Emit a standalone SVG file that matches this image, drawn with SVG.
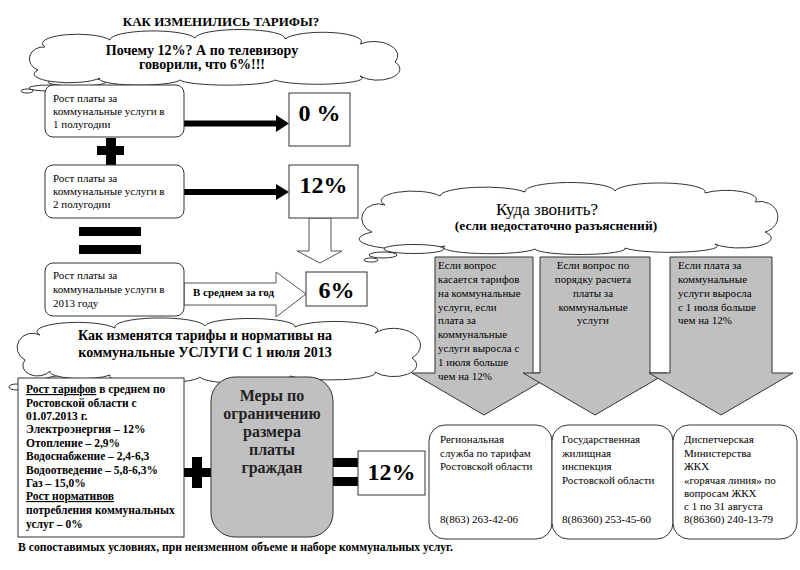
<svg xmlns="http://www.w3.org/2000/svg" width="800" height="570" viewBox="0 0 800 570" font-family="'Liberation Serif', 'DejaVu Serif', serif">
<style>
text{font-family:'Liberation Serif','DejaVu Serif',serif;fill:#000}
.b{font-weight:bold}
.sm{font-size:11px}
.cloud{fill:#fff;stroke:#333;stroke-width:1}
.box{fill:#fff;stroke:#333;stroke-width:1}
.pct{font-size:24px;font-weight:bold}
.garr{fill:#c0c0c0;stroke:#333;stroke-width:1}
.hol{fill:#fff;stroke:#555;stroke-width:1}
.u{text-decoration:underline}
</style>
<rect width="800" height="570" fill="#fff"/>

<text x="221" y="26" class="b" font-size="13" text-anchor="middle">КАК ИЗМЕНИЛИСЬ ТАРИФЫ?</text>

<g id="cloud-top">
<ellipse class="cloud" cx="77" cy="82" rx="29" ry="4"/>
<ellipse class="cloud" cx="49" cy="88" rx="20" ry="3"/>
<ellipse class="cloud" cx="27" cy="91" rx="6" ry="2"/>
<path class="cloud" d="M38,70 A14,12 0 0 1 45,47 A34,9 0 0 1 110,40 A43,9 0 0 1 195,38 A45,9 0 0 1 285,39 A38,9 0 0 1 360,44 A24,14 0 0 1 395,62 A20,10 0 0 1 360,76 A43,6 0 0 1 275,80 A48,6 0 0 1 180,80 A40,6 0 0 1 100,78 A32,8 0 0 1 38,70 Z"/>
<text x="202" y="55" class="b" font-size="14" text-anchor="middle">Почему 12%? А по телевизору</text>
<text x="202" y="69" class="b" font-size="14" text-anchor="middle">говорили, что 6%!!!</text>
</g>

<g id="connectors">
<line x1="184" y1="123.5" x2="278" y2="123.5" stroke="#000" stroke-width="6"/>
<polygon points="276,115 289,123.5 276,132" fill="#000"/>
<line x1="184" y1="192" x2="278" y2="192" stroke="#000" stroke-width="6"/>
<polygon points="276,184 289,192 276,200" fill="#000"/>
<polygon class="hol" points="309,218 331,218 331,251 342,251 320,263 297,251 309,251"/>
<polygon class="hol" points="184,283 276,283 276,272 306,294 276,317 276,305 184,305"/>
</g>

<g id="plus1">
<rect x="106" y="138" width="10" height="27" fill="#000"/>
<rect x="97" y="146" width="27" height="9" fill="#000"/>
</g>
<g id="equals1">
<rect x="79" y="227" width="62" height="9" fill="#000"/>
<rect x="79" y="245" width="62" height="9" fill="#000"/>
</g>

<g id="box1">
<rect class="box" x="45" y="85" width="139" height="52" rx="8"/>
<text class="sm" x="53" y="102">Рост платы за</text>
<text class="sm" x="53" y="115">коммунальные услуги в</text>
<text class="sm" x="53" y="128">1 полугодии</text>
</g>
<g id="box2">
<rect class="box" x="45" y="165" width="139" height="53" rx="8"/>
<text class="sm" x="53" y="182">Рост платы за</text>
<text class="sm" x="53" y="195">коммунальные услуги в</text>
<text class="sm" x="53" y="208">2 полугодии</text>
</g>
<g id="box3">
<rect class="box" x="45" y="263" width="139" height="53" rx="8"/>
<text class="sm" x="53" y="279">Рост платы за</text>
<text class="sm" x="53" y="293">коммунальные услуги в</text>
<text class="sm" x="53" y="307">2013 году</text>
</g>
<text x="193" y="296" class="b" font-size="11">В среднем за год</text>

<g id="pct0">
<rect class="box" x="289" y="93" width="61" height="53"/>
<text x="319.5" y="121" class="pct" text-anchor="middle">0 %</text>
</g>
<g id="pct12a">
<rect class="box" x="289" y="165" width="69" height="53"/>
<text x="323.5" y="193" class="pct" text-anchor="middle">12%</text>
</g>
<g id="pct6">
<rect class="box" x="306" y="272" width="61" height="34"/>
<text x="336.5" y="298" class="pct" text-anchor="middle">6%</text>
</g>

<g id="cloud-right">
<path class="cloud" d="M372,232 A16,14 0 0 1 385,205 A30,9 0 0 1 440,196 A45,9 0 0 1 525,192 A45,9 0 0 1 615,191 A45,9 0 0 1 705,193 A30,9 0 0 1 755,202 A16,14 0 0 1 765,232 A25,8 0 0 1 715,244 A45,6 0 0 1 625,248 A45,6 0 0 1 535,249 A45,6 0 0 1 445,246 A38,8 0 0 1 372,232 Z"/>
<ellipse class="cloud" cx="414" cy="249" rx="30" ry="4.5"/>
<ellipse class="cloud" cx="383" cy="255" rx="14" ry="3"/>
<ellipse class="cloud" cx="371" cy="260" rx="7" ry="2"/>
<text x="547" y="215" font-size="17" text-anchor="middle">Куда звонить?</text>
<text x="556" y="230" class="b" font-size="13.5" text-anchor="middle">(если недостаточно разъяснений)</text>
</g>

<g id="arrow1">
<polygon class="garr" points="435,257 533,257 533,373 556,373 484,415 412,373 435,373"/>
<text class="sm" x="438" y="269">Если вопрос</text>
<text class="sm" x="438" y="283">касается тарифов</text>
<text class="sm" x="438" y="297">на коммунальные</text>
<text class="sm" x="438" y="311">услуги, если</text>
<text class="sm" x="438" y="324">плата за</text>
<text class="sm" x="438" y="338">коммунальные</text>
<text class="sm" x="438" y="352">услуги выросла с</text>
<text class="sm" x="438" y="366">1 июля больше</text>
<text class="sm" x="438" y="380">чем на 12%</text>
</g>
<g id="arrow2">
<polygon class="garr" points="540,257 650,257 650,373 667,373 595,415 523,373 540,373"/>
<text class="sm" x="593" y="269" text-anchor="middle">Если вопрос по</text>
<text class="sm" x="593" y="283" text-anchor="middle">порядку расчета</text>
<text class="sm" x="593" y="297" text-anchor="middle">платы за</text>
<text class="sm" x="593" y="311" text-anchor="middle">коммунальные</text>
<text class="sm" x="593" y="324" text-anchor="middle">услуги</text>
</g>
<g id="arrow3">
<polygon class="garr" points="670,257 772,257 772,373 793,373 721,415 649,373 670,373"/>
<text class="sm" x="678" y="269">Если плата за</text>
<text class="sm" x="678" y="283">коммунальные</text>
<text class="sm" x="678" y="297">услуги выросла</text>
<text class="sm" x="678" y="311">с 1 июля больше</text>
<text class="sm" x="678" y="324">чем на 12%</text>
</g>

<g id="cloud-mid">
<ellipse class="cloud" cx="72" cy="381" rx="29" ry="6"/>
<ellipse class="cloud" cx="16" cy="387" rx="7" ry="3"/>
<path class="cloud" d="M25,360 A14,13 0 0 1 40,335 A40,9 0 0 1 115,328 A45,9 0 0 1 205,326 A45,8 0 0 1 295,327 A40,8 0 0 1 375,333 A22,14 0 0 1 412,358 A20,10 0 0 1 375,372 A45,7 0 0 1 290,376 A45,7 0 0 1 200,377 A45,7 0 0 1 110,375 A32,7 0 0 1 50,371 A14,10 0 0 1 25,360 Z"/>
<text x="205" y="340" class="b" font-size="14" text-anchor="middle">Как изменятся тарифы и нормативы на</text>
<text x="205" y="357" class="b" font-size="14" text-anchor="middle">коммунальные УСЛУГИ С 1 июля 2013</text>
</g>

<g id="tariffs">
<rect class="box" x="18" y="378" width="166" height="159"/>
<g class="b" font-size="11.5">
<text x="26" y="393"><tspan class="u">Рост тарифов</tspan> в среднем по</text>
<text x="26" y="407">Ростовской области с</text>
<text x="26" y="420">01.07.2013 г.</text>
<text x="26" y="433">Электроэнергия – 12%</text>
<text x="26" y="447">Отопление – 2,9%</text>
<text x="26" y="460">Водоснабжение – 2,4-6,3</text>
<text x="26" y="474">Водоотведение – 5,8-6,3%</text>
<text x="26" y="487">Газ – 15,0%</text>
<text x="26" y="500" class="u">Рост нормативов</text>
<text x="26" y="514">потребления коммунальных</text>
<text x="26" y="528">услуг – 0%</text>
</g>
</g>

<g id="plus2">
<rect x="192" y="457" width="10" height="31" fill="#000"/>
<rect x="184" y="468" width="27" height="9" fill="#000"/>
</g>

<g id="measures">
<rect x="211" y="377" width="122" height="160" rx="24" fill="#c0c0c0" stroke="#333" stroke-width="1"/>
<g class="b" font-size="16" text-anchor="middle">
<text x="272" y="401" style="fill:#222">Меры по</text>
<text x="272" y="419" style="fill:#222">ограничению</text>
<text x="272" y="437" style="fill:#222">размера</text>
<text x="272" y="455" style="fill:#222">платы</text>
<text x="272" y="473" style="fill:#222">граждан</text>
</g>
</g>

<g id="equals2">
<rect x="333" y="458" width="26" height="9" fill="#000"/>
<rect x="333" y="477" width="26" height="9" fill="#000"/>
</g>
<g id="pct12b">
<rect class="box" x="358" y="451" width="67" height="44"/>
<text x="391.5" y="480" class="pct" text-anchor="middle">12%</text>
</g>

<g id="contactA">
<rect class="box" x="429" y="425" width="123" height="114" rx="16"/>
<text class="sm" x="440" y="443">Региональная</text>
<text class="sm" x="440" y="457">служба по  тарифам</text>
<text class="sm" x="440" y="470">Ростовской области</text>
<text class="sm" x="440" y="523">8(863) 263-42-06</text>
</g>
<g id="contactB">
<rect class="box" x="552" y="425" width="121" height="114" rx="16"/>
<text class="sm" x="562" y="443">Государственная</text>
<text class="sm" x="562" y="457">жилищная</text>
<text class="sm" x="562" y="470">инспекция</text>
<text class="sm" x="562" y="484">Ростовской области</text>
<text class="sm" x="562" y="523">8(86360) 253-45-60</text>
</g>
<g id="contactC">
<rect class="box" x="673" y="425" width="124" height="114" rx="16"/>
<text class="sm" x="684" y="443">Диспетчерская</text>
<text class="sm" x="684" y="457">Министерства</text>
<text class="sm" x="684" y="470">ЖКХ</text>
<text class="sm" x="684" y="484">«горячая линия» по</text>
<text class="sm" x="684" y="497">вопросам ЖКХ</text>
<text class="sm" x="684" y="510">с 1 по 31 августа</text>
<text class="sm" x="684" y="523">8(86360) 240-13-79</text>
</g>

<text x="18" y="551" class="b" font-size="11.7">В сопоставимых условиях, при неизменном объеме и наборе коммунальных услуг.</text>
</svg>
